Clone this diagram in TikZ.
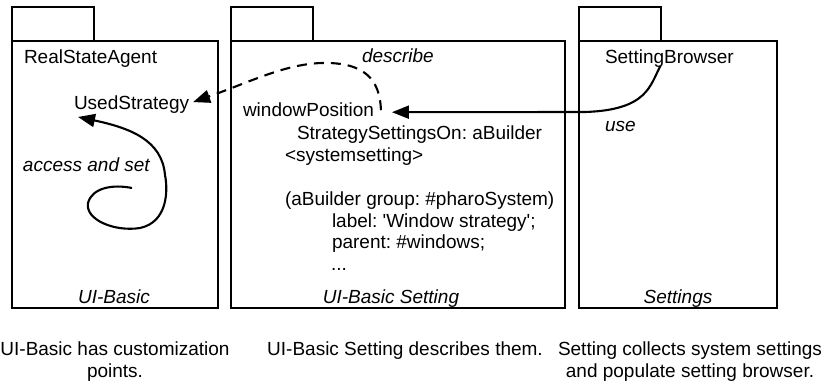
\documentclass[tikz,border=0pt]{standalone}
\usepackage{fontspec}
\setmainfont{Liberation Sans}
\usetikzlibrary{arrows.meta}
\frenchspacing
\begin{document}
\begin{tikzpicture}[x=1pt,y=-1pt,
  every node/.style={inner sep=0pt, outer sep=0pt, font=\fontsize{19}{21.7}\selectfont\frenchspacing},
  txt/.style={anchor=base west},
  ctxt/.style={anchor=base},
  lbl/.style={anchor=base west, font=\fontsize{19}{21.7}\selectfont\itshape},
  clbl/.style={anchor=base, font=\fontsize{19}{21.7}\selectfont\itshape},
  pkg/.style={draw=black, line width=1.3pt},
  conn/.style={line width=2.1pt, -{Triangle[length=17pt,width=13pt]}},
  dconn/.style={conn, dash pattern=on 10pt off 7pt}
]
\useasboundingbox (0,0) rectangle (828,385);
% packages
\draw[pkg] (12,7) rectangle (94,41);
\draw[pkg] (12,41) rectangle (218,308);
\draw[pkg] (231,7) rectangle (313,41);
\draw[pkg] (231,41) rectangle (565,308);
\draw[pkg] (579,7) rectangle (661,41);
\draw[pkg] (579,41) rectangle (777,308);
% texts package 1
\node[txt] (rsa) at (24,64) {RealStateAgent};
\node[txt] (us) at (74,110) {UsedStrategy};
\node[lbl] (acc) at (23,172) {access and set};
\node[clbl] (uib) at (114,303) {UI-Basic};
% texts package 2
\node[txt] (wp) at (243,117) {windowPosition};
\node[txt] (l1) at (297,140) {StrategySettingsOn: aBuilder};
\node[txt] (l2) at (285,162) {<systemsetting>};
\node[txt] (l3) at (285,205) {(aBuilder group: \#pharoSystem)};
\node[txt] (l4) at (332,227) {label: \textquotesingle Window strategy\textquotesingle;};
\node[txt] (l5) at (332,248) {parent: \#windows;};
\node[txt] (l6) at (331,270) {...};
\node[lbl] (desc) at (362,63) {describe};
\node[clbl] (uibs) at (391,303) {UI-Basic Setting};
% texts package 3
\node[txt] (sb) at (605,64) {SettingBrowser};
\node[lbl] (use) at (605,132) {use};
\node[clbl] (set) at (678,303) {Settings};
% captions
\node[ctxt] (c1a) at (115,355) {UI-Basic has customization};
\node[ctxt] (c1b) at (115,377) {points.};
\node[ctxt] (c2a) at (405,355) {UI-Basic Setting describes them.};
\node[ctxt] (c3a) at (690,355) {Setting collects system settings};
\node[ctxt] (c3b) at (690,377) {and populate setting browser.};
% connectors
\coordinate (accstart) at (132,188);
\draw[conn] (accstart) .. controls (112,184) and (92,188) .. (88,203)
  .. controls (85,220) and (115,232) .. (140,228)
  .. controls (168,222) and (168,190) .. (165,175)
  .. controls (162,140) and (130,128) .. ([shift={(4,3)}]us.south west);
\draw[dconn] ([shift={(7,0)}]wp.east) .. controls (380,80) and (365,62) .. (322,63)
  .. controls (285,64) and (250,82) .. ([shift={(4,-3)}]us.east);
\draw[conn] ([shift={(-9,2)}]sb.base) .. controls (650,85) and (648,110) .. (585,112)
  -- ([shift={(18,2)}]wp.east);
\end{tikzpicture}
\end{document}
